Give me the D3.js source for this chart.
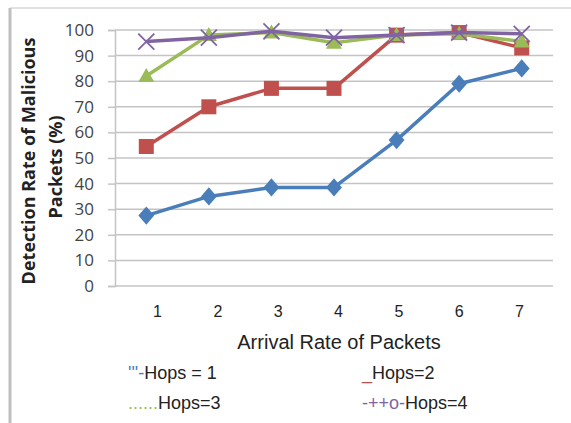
<!DOCTYPE html>
<html><head><meta charset="utf-8">
<script src="https://cdn.jsdelivr.net/npm/d3@7"></script>
<style>body{margin:0;background:#fff}svg{display:block}</style>
</head><body>
<script>
const categories = [1, 2, 3, 4, 5, 6, 7];
const hops1 = [27.5, 35, 38.5, 38.5, 57, 79, 85];
const hops2 = [54.5, 70, 77.2, 77.2, 98, 99, 93];
const hops3 = [82, 98, 99, 95, 98, 98.5, 95.5];
const hops4 = [95.5, 97, 99.5, 97, 98, 99, 98.5];
const yTicks = [0, 10, 20, 30, 40, 50, 60, 70, 80, 90, 100];
const seriesNames = ["Hops = 1", "Hops=2", "Hops=3", "Hops=4"];
const legendPrefixes = ["'''-", "_", "......", "-++o-"];

const W = 571, H = 423;
const svg = d3.select("body").append("svg").attr("width", W).attr("height", H);
const font = "'Liberation Sans', Arial, sans-serif";
const font2 = "'Open Sans', 'DejaVu Sans', sans-serif";

// frame
svg.append("line").attr("x1", 10).attr("x2", W).attr("y1", 8).attr("y2", 8).attr("stroke", "#d9d9d9").attr("stroke-width", 1.5);
svg.append("line").attr("x1", 10).attr("x2", 10).attr("y1", 8).attr("y2", H).attr("stroke", "#bfbfbf").attr("stroke-width", 3);

const x = d3.scaleBand().domain(categories).range([115, 553]);
const xLabel = d3.scalePoint().domain(categories).range([157, 519]);
const y = d3.scaleLinear().domain([0, 100]).range([286, 30]);

// grid
svg.append("g").selectAll("line").data(yTicks).join("line")
  .attr("x1", 115).attr("x2", 553).attr("y1", d => y(d)).attr("y2", d => y(d))
  .attr("stroke", "#c4c4c4").attr("stroke-width", 1.5);

// y axis
const yAxis = svg.append("g").attr("transform", "translate(115,0)")
  .call(d3.axisLeft(y).tickValues(yTicks).tickSize(7).tickPadding(14));
yAxis.select(".domain").attr("stroke", "#c4c4c4").attr("stroke-width", 1.5);
yAxis.selectAll(".tick line").attr("stroke", "#c4c4c4").attr("stroke-width", 1.5);
yAxis.selectAll("text").attr("font-family", font2).attr("font-size", 17).attr("fill", "#444");

// x labels
const xAxis = svg.append("g").attr("transform", "translate(0,303)")
  .call(d3.axisBottom(xLabel).tickSize(0).tickPadding(3));
xAxis.select(".domain").remove();
xAxis.selectAll("text").attr("font-family", font).attr("font-size", 16).attr("fill", "#222");

svg.append("text").attr("x", 339).attr("y", 349).attr("text-anchor", "middle")
  .attr("font-family", font).attr("font-size", 20).attr("fill", "#222").text("Arrival Rate of Packets");

// y title
const yt = svg.append("g").attr("font-family", font2).attr("font-weight", "bold").attr("font-size", 18).attr("fill", "#222").attr("text-anchor", "middle");
yt.append("text").attr("transform", "translate(35,161) rotate(-90)").text("Detection Rate of Malicious");
yt.append("text").attr("transform", "translate(62,167) rotate(-90)").text("Packets (%)");

const colors = ["#4a7ebb", "#c0504d", "#9bbb59", "#8064a2"];
const data = [hops1, hops2, hops3, hops4];
const cx = i => x(categories[i]) + x.bandwidth() / 2;
const line = d3.line().x((d, i) => cx(i)).y(d => y(d));

data.forEach((vals, s) => {
  const g = svg.append("g");
  g.append("path").datum(vals).attr("d", line).attr("fill", "none")
    .attr("stroke", colors[s]).attr("stroke-width", 3.5).attr("stroke-linejoin", "round");
  const pts = g.selectAll("g").data(vals).join("g")
    .attr("transform", (d, i) => `translate(${cx(i)},${y(d)})`);
  if (s === 0) {
    pts.append("path").attr("d", d3.symbol(d3.symbolDiamond2, 160)).attr("fill", colors[s]).attr("transform", "scale(1,1.15)");
  } else if (s === 1) {
    pts.append("rect").attr("x", -7.5).attr("y", -7.5).attr("width", 15).attr("height", 15).attr("fill", colors[s]);
  } else if (s === 2) {
    pts.append("path").attr("d", "M0,-8L8,6L-8,6Z").attr("fill", colors[s]);
  } else {
    pts.append("path").attr("d", "M-8,-8L8,8M-8,8L8,-8").attr("stroke", colors[s]).attr("stroke-width", 1.8);
  }
});

// legend
const legPos = [[128, 379], [362, 379], [128, 409], [362, 409]];
seriesNames.forEach((n, i) => {
  const t = svg.append("text").attr("x", legPos[i][0]).attr("y", legPos[i][1])
    .attr("font-family", font).attr("font-size", 18).attr("fill", "#222");
  t.append("tspan").attr("fill", colors[i]).text(legendPrefixes[i]);
  t.append("tspan").text(n);
});
</script>
</body></html>
